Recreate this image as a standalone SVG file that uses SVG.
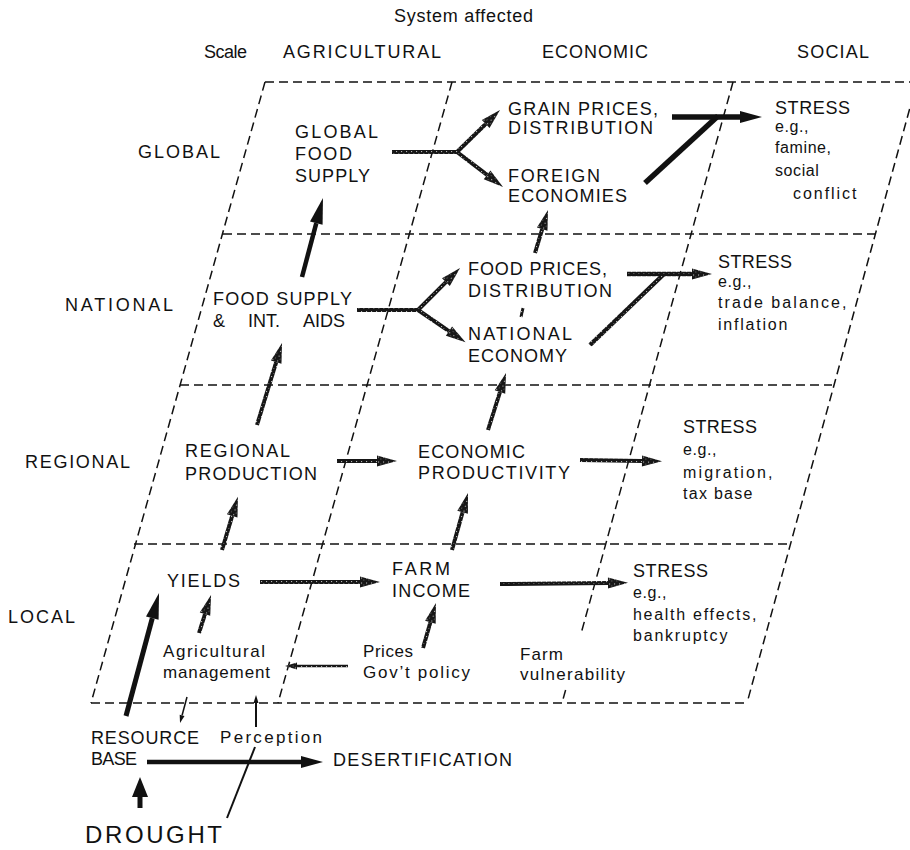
<svg xmlns="http://www.w3.org/2000/svg" width="910" height="850" viewBox="0 0 910 850">
  <style>
    .bg { fill: #ffffff; }
    .grid { fill: none; stroke: #111; stroke-width: 1.5; stroke-dasharray: 9 5; }
    text { font-family: 'Liberation Sans', Arial, Helvetica, sans-serif; fill: #111; }
    .lg { font-size: 18px; }
    .md { font-size: 17px; }
    .sm { font-size: 16px; letter-spacing: 0.6px; }
    .big { font-size: 24px; }
    .solid { fill: none; stroke: #111; stroke-linecap: butt; }
    .stip { fill: none; stroke: url(#stip); stroke-linecap: butt; }
    .thin { fill: none; stroke: #111; }
  </style>
  <defs>
    <!-- speckled ink used on the textured arrows -->
    <pattern id="stip" width="5" height="5" patternUnits="userSpaceOnUse">
      <rect width="5" height="5" fill="#161616"/>
      <rect x="1" y="1" width="1.1" height="1.1" fill="#b5b5b5"/>
      <rect x="3.4" y="3.1" width="0.9" height="0.9" fill="#8a8a8a"/>
    </pattern>
    <marker id="hL" markerWidth="26" markerHeight="13" refX="0" refY="6.5" orient="auto" markerUnits="userSpaceOnUse" overflow="visible">
      <path d="M0,0 L26,6.5 L0,13 Z" fill="#111"/>
    </marker>
    <marker id="hM" markerWidth="22" markerHeight="12" refX="0" refY="6" orient="auto" markerUnits="userSpaceOnUse" overflow="visible">
      <path d="M0,0 L22,6 L0,12 Z" fill="#111"/>
    </marker>
    <marker id="hD" markerWidth="20" markerHeight="16" refX="0" refY="8" orient="auto" markerUnits="userSpaceOnUse" overflow="visible">
      <path d="M0,0 L20,8 L0,16 Z" fill="#111"/>
    </marker>
    <marker id="hS" markerWidth="20" markerHeight="11" refX="0" refY="5.5" orient="auto" markerUnits="userSpaceOnUse" overflow="visible">
      <path d="M0,0 L20,5.5 L0,11 Z" fill="url(#stip)"/>
    </marker>
    <marker id="hT" markerWidth="12" markerHeight="7" refX="0" refY="3.5" orient="auto" markerUnits="userSpaceOnUse" overflow="visible">
      <path d="M0,0 L12,3.5 L0,7 Z" fill="url(#stip)"/>
    </marker>
    <marker id="hX" markerWidth="8" markerHeight="5" refX="0" refY="2.5" orient="auto" markerUnits="userSpaceOnUse" overflow="visible">
      <path d="M0,0 L8,2.5 L0,5 Z" fill="#111"/>
    </marker>
  </defs>

  <rect class="bg" width="910" height="850"/>

  <!-- dashed skewed grid: scale rows x system columns -->
  <g id="grid">
    <line class="grid" x1="265" y1="82" x2="910" y2="82"/>
    <line class="grid" x1="223" y1="234" x2="875" y2="234"/>
    <line class="grid" x1="180" y1="385" x2="832" y2="385"/>
    <line class="grid" x1="134" y1="544" x2="788" y2="544"/>
    <line class="grid" x1="91" y1="703" x2="747" y2="703"/>
    <line class="grid" x1="265" y1="82" x2="91" y2="703"/>
    <line class="grid" x1="452" y1="82" x2="278" y2="703"/>
    <!-- economic/social divider, broken where the farm vulnerability label sits -->
    <line class="grid" x1="733" y1="82" x2="581.5" y2="632"/>
    <line class="grid" x1="565.6" y1="690" x2="562" y2="703"/>
    <line class="grid" x1="917" y1="82" x2="747" y2="703"/>
  </g>

  <!-- column and row headings -->
  <g id="heading-system"><text class="lg" x="394" y="22" textLength="139">System affected</text></g>
  <g id="heading-scale"><text class="lg" x="204" y="58" textLength="43">Scale</text></g>
  <g id="col-agricultural"><text class="lg" x="283" y="58" textLength="158">AGRICULTURAL</text></g>
  <g id="col-economic"><text class="lg" x="542" y="58" textLength="106">ECONOMIC</text></g>
  <g id="col-social"><text class="lg" x="797" y="58" textLength="72">SOCIAL</text></g>
  <g id="row-global"><text class="lg" x="138" y="158" textLength="82">GLOBAL</text></g>
  <g id="row-national"><text class="lg" x="65" y="311" textLength="108">NATIONAL</text></g>
  <g id="row-regional"><text class="lg" x="25" y="468" textLength="105">REGIONAL</text></g>
  <g id="row-local"><text class="lg" x="8" y="623" textLength="67">LOCAL</text></g>

  <!-- global row -->
  <g id="global-food-supply">
    <text class="lg" x="295" y="138" textLength="83">GLOBAL</text>
    <text class="lg" x="295" y="160" textLength="57">FOOD</text>
    <text class="lg" x="295" y="182" textLength="75">SUPPLY</text>
  </g>
  <g id="grain-prices">
    <text class="lg" x="508" y="115" textLength="150">GRAIN PRICES,</text>
    <text class="lg" x="508" y="134" textLength="145">DISTRIBUTION</text>
  </g>
  <g id="foreign-economies">
    <text class="lg" x="508" y="182" textLength="92">FOREIGN</text>
    <text class="lg" x="508" y="202" textLength="119">ECONOMIES</text>
  </g>
  <g id="stress-global">
    <text class="lg" x="775" y="114" textLength="75">STRESS</text>
    <text class="sm" x="775" y="132">e.g.,</text>
    <text class="sm" x="775" y="153">famine,</text>
    <text class="sm" x="775" y="176">social</text>
    <text class="sm" x="793" y="199" textLength="64">conflict</text>
  </g>

  <!-- national row -->
  <g id="food-supply-aids">
    <text class="lg" x="213" y="305" textLength="139">FOOD SUPPLY</text>
    <text class="lg" y="327"><tspan x="213">&amp;</tspan><tspan x="248">INT.</tspan><tspan x="303">AIDS</tspan></text>
  </g>
  <g id="food-prices">
    <text class="lg" x="468" y="275" textLength="139">FOOD PRICES,</text>
    <text class="lg" x="468" y="297" textLength="144">DISTRIBUTION</text>
  </g>
  <g id="national-economy">
    <text class="lg" x="468" y="340" textLength="104">NATIONAL</text>
    <text class="lg" x="468" y="362" textLength="99">ECONOMY</text>
  </g>
  <g id="stress-national">
    <text class="lg" x="718" y="268" textLength="74">STRESS</text>
    <text class="sm" x="718" y="287">e.g.,</text>
    <text class="sm" x="718" y="308" textLength="129">trade balance,</text>
    <text class="sm" x="718" y="330" textLength="70">inflation</text>
  </g>

  <!-- regional row -->
  <g id="regional-production">
    <text class="lg" x="185" y="457" textLength="105">REGIONAL</text>
    <text class="lg" x="185" y="480" textLength="132">PRODUCTION</text>
  </g>
  <g id="economic-productivity">
    <text class="lg" x="418" y="458" textLength="107">ECONOMIC</text>
    <text class="lg" x="418" y="479" textLength="152">PRODUCTIVITY</text>
  </g>
  <g id="stress-regional">
    <text class="lg" x="683" y="433" textLength="74">STRESS</text>
    <text class="sm" x="683" y="455">e.g.,</text>
    <text class="sm" x="683" y="478" textLength="90">migration,</text>
    <text class="sm" x="683" y="499" textLength="70">tax base</text>
  </g>

  <!-- local row -->
  <g id="yields"><text class="lg" x="167" y="587" textLength="73">YIELDS</text></g>
  <g id="farm-income">
    <text class="lg" x="392" y="575" textLength="58">FARM</text>
    <text class="lg" x="392" y="597" textLength="78">INCOME</text>
  </g>
  <g id="stress-local">
    <text class="lg" x="633" y="577" textLength="75">STRESS</text>
    <text class="sm" x="633" y="598">e.g.,</text>
    <text class="sm" x="633" y="620" textLength="124">health effects,</text>
    <text class="sm" x="633" y="641" textLength="95">bankruptcy</text>
  </g>
  <g id="agricultural-management">
    <text class="md" x="163" y="657" textLength="102">Agricultural</text>
    <text class="md" x="163" y="678" textLength="107">management</text>
  </g>
  <g id="prices-policy">
    <text class="md" x="363" y="657" textLength="50">Prices</text>
    <text class="md" x="363" y="678" textLength="107">Gov’t policy</text>
  </g>
  <g id="farm-vulnerability">
    <text class="md" x="520" y="660" textLength="43">Farm</text>
    <text class="md" x="520" y="680" textLength="105">vulnerability</text>
  </g>

  <!-- below the grid -->
  <g id="resource-base">
    <text class="lg" x="91" y="744" textLength="108">RESOURCE</text>
    <text class="lg" x="91" y="765" textLength="46">BASE</text>
  </g>
  <g id="perception"><text class="md" x="220" y="743" textLength="102">Perception</text></g>
  <g id="desertification"><text class="lg" x="333" y="766" textLength="179">DESERTIFICATION</text></g>
  <g id="drought"><text class="big" x="85" y="843" textLength="137">DROUGHT</text></g>

  <!-- connectors -->
  <g id="connectors">
    <!-- national food supply up to global food supply -->
    <line class="solid" stroke-width="4.5" x1="302" y1="277" x2="316.3" y2="223.1" marker-end="url(#hL)"/>
    <!-- global food supply fork -->
    <path class="stip" stroke-width="4" d="M392,152 H457"/>
    <line class="stip" stroke-width="4" x1="457" y1="152" x2="485.7" y2="124" marker-end="url(#hS)"/>
    <line class="stip" stroke-width="4" x1="457" y1="152" x2="487.1" y2="174.9" marker-end="url(#hS)"/>
    <!-- global economy to social stress -->
    <line class="solid" stroke-width="5.5" x1="645" y1="183" x2="718" y2="116"/>
    <line class="solid" stroke-width="5.5" x1="672" y1="117" x2="740" y2="117" marker-end="url(#hM)"/>
    <!-- national economy up to foreign economies -->
    <line class="stip" stroke-width="4" x1="535" y1="253" x2="542.2" y2="229.2" marker-end="url(#hS)"/>
    <!-- national food supply fork -->
    <path class="stip" stroke-width="4" d="M357,310 H418"/>
    <line class="stip" stroke-width="4" x1="418" y1="310" x2="445.9" y2="282.1" marker-end="url(#hS)"/>
    <line class="stip" stroke-width="4" x1="418" y1="310" x2="449" y2="331.1" marker-end="url(#hS)"/>
    <path class="stip" stroke-width="3" d="M521,317 L523,308"/>
    <!-- national economy to social stress -->
    <line class="stip" stroke-width="4.5" x1="590" y1="345" x2="664" y2="274"/>
    <line class="stip" stroke-width="4.5" x1="627" y1="274" x2="692" y2="274" marker-end="url(#hS)"/>
    <!-- regional production up to national food supply -->
    <line class="stip" stroke-width="4" x1="257" y1="425" x2="276.2" y2="362.1" marker-end="url(#hS)"/>
    <!-- regional production to economic productivity -->
    <line class="stip" stroke-width="4" x1="337" y1="461" x2="377" y2="461" marker-end="url(#hS)"/>
    <!-- economic productivity up to national economy -->
    <line class="stip" stroke-width="4" x1="488" y1="430" x2="500" y2="392" marker-end="url(#hS)"/>
    <!-- economic productivity to regional stress -->
    <line class="stip" stroke-width="4" x1="580" y1="460" x2="642" y2="461" marker-end="url(#hS)"/>
    <!-- yields up to regional production -->
    <line class="stip" stroke-width="4" x1="222" y1="550" x2="232.2" y2="515.9" marker-end="url(#hS)"/>
    <!-- yields to farm income -->
    <line class="stip" stroke-width="4" x1="260" y1="582" x2="360" y2="582" marker-end="url(#hS)"/>
    <!-- farm income up to economic productivity -->
    <line class="stip" stroke-width="4" x1="452" y1="550" x2="462.6" y2="512.3" marker-end="url(#hS)"/>
    <!-- farm income to local stress -->
    <line class="stip" stroke-width="4" x1="500" y1="584" x2="608" y2="583" marker-end="url(#hS)"/>
    <!-- prices up to farm income -->
    <line class="stip" stroke-width="4" x1="423" y1="648" x2="430.4" y2="622.2" marker-end="url(#hS)"/>
    <!-- agricultural management up to yields -->
    <line class="stip" stroke-width="4" x1="199" y1="633" x2="205" y2="614.1" marker-end="url(#hS)"/>
    <!-- prices back to agricultural management -->
    <line class="stip" stroke-width="2.5" x1="348" y1="666" x2="297" y2="666" marker-end="url(#hT)"/>
    <!-- management down to resource base -->
    <line class="thin" stroke-width="1.5" x1="187" y1="697" x2="182.1" y2="715.3" marker-end="url(#hX)"/>
    <!-- perception up to management -->
    <line class="thin" stroke-width="2" x1="256" y1="727" x2="256" y2="703" marker-end="url(#hX)"/>
    <!-- resource base up to yields -->
    <line class="solid" stroke-width="5" x1="126" y1="716" x2="152.3" y2="618.1" marker-end="url(#hL)"/>
    <!-- resource base to desertification -->
    <line class="solid" stroke-width="4.5" x1="147" y1="762" x2="301" y2="762" marker-end="url(#hM)"/>
    <!-- drought to perception -->
    <line class="thin" stroke-width="2" x1="227" y1="818" x2="255" y2="747"/>
    <!-- drought up to resource base -->
    <line class="solid" stroke-width="5" x1="140" y1="808" x2="140" y2="797" marker-end="url(#hD)"/>
  </g>
</svg>
